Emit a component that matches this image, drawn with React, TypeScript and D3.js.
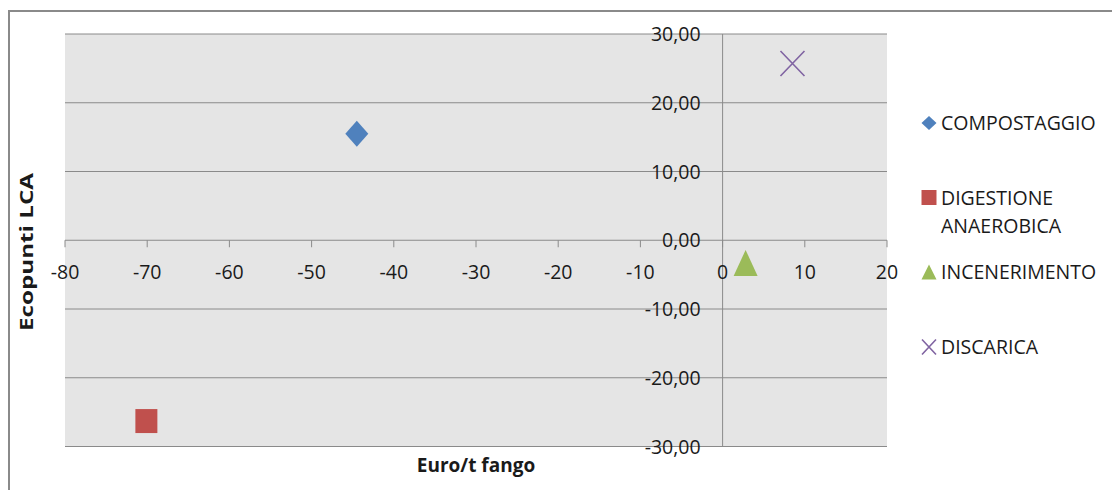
import * as d3 from "d3";

// scatter: cost (Euro/t fango) vs LCA ecopoints per treatment
const seriesNames = ["COMPOSTAGGIO", "DIGESTIONE ANAEROBICA", "INCENERIMENTO", "DISCARICA"];
const legendLines = [["COMPOSTAGGIO"], ["DIGESTIONE", "ANAEROBICA"], ["INCENERIMENTO"], ["DISCARICA"]];
const costs = [-44.5, -70.1, 2.8, 8.5];
const ecopoints = [15.5, -26.3, -3.3, 25.7];
const colors = ["#4F81BD", "#C0504D", "#9BBB59", "#8064A2"];
const markers = ["diamond", "square", "triangle", "cross"];

const xTicks = [-80, -70, -60, -50, -40, -30, -20, -10, 0, 10, 20];
const yTicks = [-30, -20, -10, 0, 10, 20, 30];

const W = 1112;
const H = 490;
const plot = { left: 65, right: 887, top: 34, bottom: 446.5 };
const font = "'Open Sans', 'Noto Sans', sans-serif";

// marker shape around (0,0), w x h box
function markerPath(kind: string, w: number, h: number) {
  const a = w / 2, b = h / 2;
  if (kind === "diamond") return `M0,${-b}L${a},0L0,${b}L${-a},0Z`;
  if (kind === "square") return `M${-a},${-b}H${a}V${b}H${-a}Z`;
  if (kind === "triangle") return `M0,${-b}L${a},${b}L${-a},${b}Z`;
  return `M${-a},${-b}L${a},${b}M${a},${-b}L${-a},${b}`;
}

const markerSize: Record<string, [number, number]> = {
  diamond: [23, 26],
  square: [22, 24],
  triangle: [24, 26],
  cross: [24, 25],
};
const legendSize: Record<string, [number, number]> = {
  diamond: [15, 14],
  square: [15, 15],
  triangle: [15, 15],
  cross: [14, 15],
};

function Marker({ kind, color, x, y, size }: { kind: string; color: string; x: number; y: number; size: [number, number] }) {
  const d = markerPath(kind, size[0], size[1]);
  if (kind === "cross") {
    return <path d={d} transform={`translate(${x},${y})`} fill="none" stroke={color} strokeWidth={1.6} />;
  }
  return <path d={d} transform={`translate(${x},${y})`} fill={color} />;
}

const fmtY = (v: number) => d3.format(".2f")(v).replace(".", ",").replace("−", "-");

export default function App() {
  const x = d3.scaleLinear().domain([-80, 20]).range([plot.left, plot.right]);
  const y = d3.scaleLinear().domain([-30, 30]).range([plot.bottom, plot.top]);
  const grid = "#8a8a8a";
  const legendY = [123, 197.5, 272, 347];

  return (
    <svg width={W} height={H} style={{ position: "absolute", left: 0, top: 0 }} fontFamily={font}>
      <rect x={0} y={0} width={W} height={H} fill="#fff" />
      <rect x={9} y={11} width={1130} height={520} fill="#fff" stroke="#8a8a8a" strokeWidth={2} />

      {/* plot area */}
      <rect x={plot.left} y={plot.top} width={plot.right - plot.left} height={plot.bottom - plot.top} fill="#e5e5e5" />
      {yTicks.map((t) => (
        <line key={t} x1={plot.left} x2={plot.right} y1={y(t)} y2={y(t)} stroke={grid} strokeWidth={1} />
      ))}
      {/* vertical axis at x = 0 */}
      <line x1={x(0)} x2={x(0)} y1={plot.top} y2={plot.bottom} stroke={grid} strokeWidth={1} />
      {/* horizontal axis ticks at y = 0 */}
      {xTicks.map((t) => (
        <line key={t} x1={x(t)} x2={x(t)} y1={y(0)} y2={y(0) + 7} stroke={grid} strokeWidth={1} />
      ))}

      {/* tick labels */}
      {xTicks.map((t) => (
        <text key={t} x={x(t)} y={y(0) + 39} textAnchor="middle" fontSize={19.5} fill="#1a1a1a">
          {t}
        </text>
      ))}
      {yTicks.map((t) => (
        <text key={t} x={x(0) - 22} y={y(t)} dy="0.36em" textAnchor="end" fontSize={19.5} fill="#1a1a1a">
          {fmtY(t)}
        </text>
      ))}

      {/* points */}
      {seriesNames.map((s, i) => (
        <Marker key={s} kind={markers[i]} color={colors[i]} x={x(costs[i])} y={y(ecopoints[i])} size={markerSize[markers[i]]} />
      ))}

      {/* axis titles */}
      <text x={(plot.left + plot.right) / 2} y={472} textAnchor="middle" fontSize={19} fontWeight="bold" fill="#1a1a1a">
        Euro/t fango
      </text>
      <text
        transform="translate(33,252) rotate(-90)"
        textAnchor="middle"
        fontSize={18}
        fontWeight="bold"
        fill="#1a1a1a"
        textLength={158}
        lengthAdjust="spacingAndGlyphs"
      >
        Ecopunti LCA
      </text>

      {/* legend */}
      {seriesNames.map((s, i) => (
        <g key={s}>
          <Marker kind={markers[i]} color={colors[i]} x={929} y={legendY[i]} size={legendSize[markers[i]]} />
          {legendLines[i].map((ln, j) => (
            <text key={ln} x={941} y={legendY[i] + 7 + j * 28} fontSize={19.5} fill="#1a1a1a">
              {ln}
            </text>
          ))}
        </g>
      ))}
    </svg>
  );
}
